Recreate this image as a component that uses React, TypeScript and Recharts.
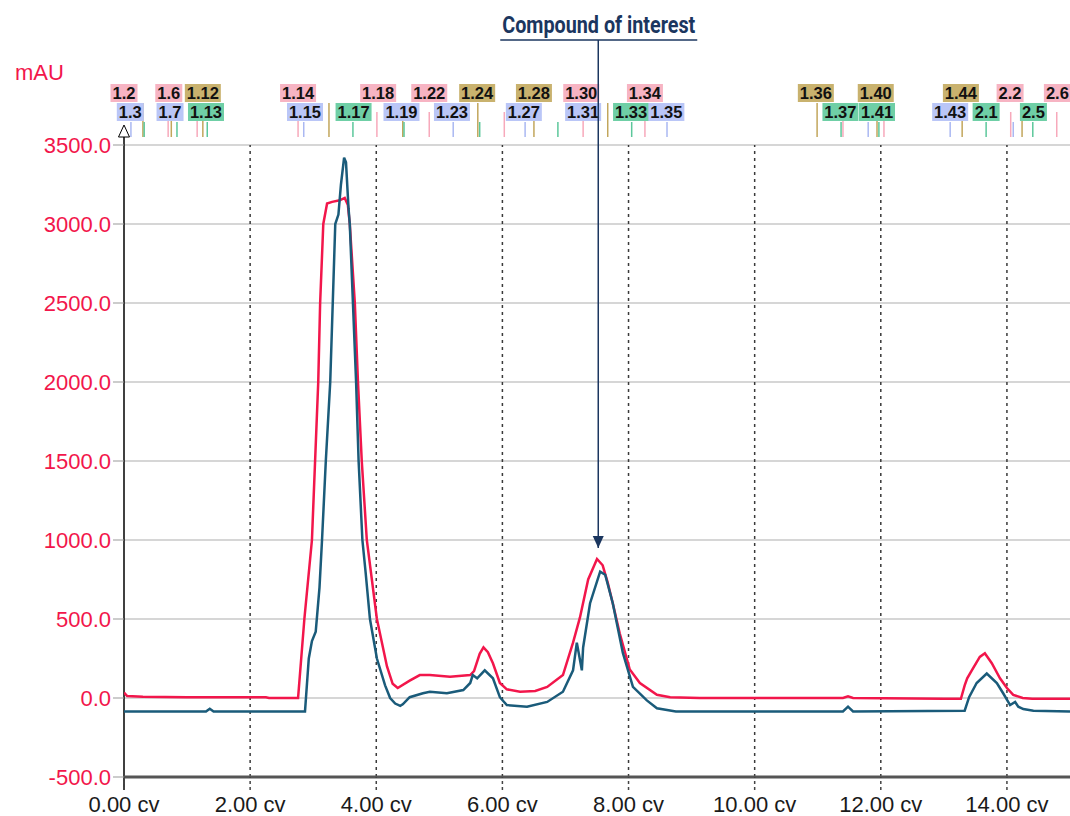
import React from 'react';
import { LineChart, Line, XAxis, YAxis, CartesianGrid, ReferenceLine, ReferenceDot } from 'recharts';

// ---- data ----
const redTrace: [number, number][] = [
  [0, 35], [0.05, 12], [0.3, 8], [1.0, 5], [2.25, 4], [2.3, 0], [2.76, 0], [2.86, 500], [2.98, 1000],
  [3.03, 1500], [3.08, 2000], [3.11, 2500], [3.16, 3000], [3.22, 3130], [3.3, 3140], [3.42, 3150],
  [3.5, 3165], [3.55, 3120], [3.58, 3000], [3.66, 2500], [3.71, 2000], [3.77, 1500], [3.85, 1000],
  [4.01, 500], [4.17, 200], [4.26, 90], [4.34, 63], [4.53, 110], [4.69, 145], [4.85, 145],
  [5.17, 135], [5.49, 145], [5.55, 170], [5.64, 280], [5.7, 320], [5.77, 290], [5.85, 220], [5.96, 95],
  [6.07, 55], [6.28, 40], [6.52, 45], [6.71, 70], [6.96, 145], [7.12, 350], [7.23, 510], [7.36, 750],
  [7.5, 880], [7.59, 840], [7.67, 730], [7.75, 600], [7.86, 410], [8.02, 180], [8.18, 95], [8.45, 20],
  [8.66, 5], [9.13, 0], [11.4, 0], [11.48, 10], [11.56, 0], [13.0, -5], [13.27, -5], [13.33, 80],
  [13.37, 125], [13.45, 180], [13.57, 260], [13.65, 283], [13.76, 220], [13.89, 125], [14.0, 63],
  [14.1, 20], [14.25, 0], [14.4, -5], [15, -5],
];

const tealTrace: [number, number][] = [
  [0, -85], [1.3, -85], [1.36, -68], [1.42, -85], [2.87, -85], [2.93, 250], [2.98, 360], [3.04, 420],
  [3.1, 700], [3.14, 1000], [3.2, 1500], [3.27, 2000], [3.31, 2500], [3.35, 3000], [3.4, 3060],
  [3.44, 3250], [3.49, 3420], [3.52, 3390], [3.56, 3100], [3.58, 3000], [3.63, 2500], [3.68, 2000],
  [3.72, 1500], [3.78, 1000], [3.83, 800], [3.9, 500], [4.01, 250], [4.14, 80], [4.22, 0], [4.3, -35],
  [4.38, -50], [4.42, -40], [4.53, 5], [4.74, 30], [4.85, 40], [5.12, 30],
  [5.38, 50], [5.49, 95], [5.53, 145], [5.6, 125], [5.72, 175], [5.85, 125], [5.96, 5], [6.07, -45],
  [6.39, -55], [6.71, -25], [6.96, 40], [7.12, 175], [7.18, 350], [7.21, 285], [7.26, 175], [7.28, 320],
  [7.39, 600], [7.55, 800], [7.63, 780], [7.75, 600], [7.91, 285], [8.07, 70], [8.29, -15], [8.45, -65],
  [8.75, -85], [11.4, -85], [11.48, -55], [11.56, -85], [13.33, -80], [13.4, 5], [13.52, 95],
  [13.68, 155], [13.84, 95], [13.94, 30], [14.05, -45], [14.13, -25], [14.18, -55], [14.26, -70],
  [14.42, -80], [15, -85],
];

const xTicks = [0, 2, 4, 6, 8, 10, 12, 14];
const gridX = [2, 4, 6, 8, 10, 12, 14];
const yTicks = [-500, 0, 500, 1000, 1500, 2000, 2500, 3000, 3500];
const yUnit = 'mAU';

type Kind = 'pink' | 'blue' | 'khaki' | 'teal';

const fractionRow1: [string, number, Kind][] = [
  ['1.2', 0.0, 'pink'], ['1.6', 0.71, 'pink'], ['1.12', 1.25, 'khaki'], ['1.14', 2.76, 'pink'],
  ['1.18', 4.03, 'pink'], ['1.22', 4.84, 'pink'], ['1.24', 5.6, 'khaki'], ['1.28', 6.5, 'khaki'],
  ['1.30', 7.25, 'pink'], ['1.34', 8.26, 'pink'], ['1.36', 10.97, 'khaki'], ['1.40', 11.92, 'khaki'],
  ['1.44', 13.27, 'khaki'], ['2.2', 14.05, 'pink'], ['2.6', 14.8, 'pink'],
];

const fractionRow2: [string, number, Kind][] = [
  ['1.3', 0.1, 'blue'], ['1.7', 0.73, 'blue'], ['1.13', 1.3, 'teal'], ['1.15', 2.87, 'blue'],
  ['1.17', 3.64, 'teal'], ['1.19', 4.4, 'blue'], ['1.23', 5.2, 'blue'], ['1.27', 6.34, 'blue'],
  ['1.31', 7.28, 'blue'], ['1.33', 8.04, 'teal'], ['1.35', 8.6, 'blue'], ['1.37', 11.36, 'teal'],
  ['1.41', 11.94, 'teal'], ['1.43', 13.1, 'blue'], ['2.1', 13.67, 'teal'], ['2.5', 14.42, 'teal'],
];

const fractionTicks: [number, Kind][] = [
  [0.11, 'blue'], [0.3, 'khaki'], [0.32, 'teal'], [0.7, 'pink'], [0.75, 'khaki'], [0.84, 'teal'],
  [1.16, 'pink'], [1.25, 'khaki'], [1.32, 'teal'], [2.76, 'pink'], [2.85, 'blue'], [3.25, 'khaki'],
  [3.63, 'teal'], [4.01, 'pink'], [4.42, 'khaki'], [4.44, 'teal'], [4.84, 'pink'], [5.22, 'blue'],
  [5.61, 'khaki'], [5.64, 'teal'], [6.03, 'pink'], [6.36, 'blue'], [6.5, 'khaki'], [6.88, 'teal'],
  [7.28, 'pink'], [7.67, 'khaki'], [8.05, 'teal'], [8.26, 'pink'], [8.61, 'blue'], [10.99, 'khaki'],
  [11.37, 'teal'], [11.4, 'pink'], [11.8, 'blue'], [11.94, 'khaki'], [11.97, 'teal'], [12.05, 'pink'],
  [13.1, 'blue'], [13.29, 'khaki'], [13.67, 'teal'], [14.06, 'pink'], [14.1, 'blue'], [14.24, 'khaki'],
  [14.41, 'teal'], [14.79, 'pink'],
];

const annotationText = 'Compound of interest';
const annotationX = 7.52;
const annotationTip = 950;

// ---- styles ----
const RED = '#f2164b';
const TEAL = '#1a5b7a';
const NAVY = '#1b365f';
const boxFill: Record<Kind, string> = { pink: '#f7b4c3', blue: '#bac6f7', khaki: '#c9b26e', teal: '#6fcfa6' };
const tickStroke: Record<Kind, string> = { pink: '#f7a9bb', blue: '#aab8f2', khaki: '#c2a65c', teal: '#5cc79b' };
const tickTop: Record<Kind, number> = { pink: 33, blue: 23, khaki: 42, teal: 23 };

const toPoints = (t: [number, number][]) => t.map(([x, y]) => ({ x, y }));
const redData = toPoints(redTrace);
const tealData = toPoints(tealTrace);
const Y_TOP = yTicks[yTicks.length - 1];
const Y_BOTTOM = yTicks[0];

const labelShape = (label: string, kind: Kind, row: number) => (props: any) => {
  const { cx, cy } = props;
  const w = label.length * 9;
  const top = row === 1 ? cy - 61 : cy - 42;
  return (
    <g>
      <rect x={cx - w / 2} y={top} width={w} height={18} fill={boxFill[kind]} />
      <text x={cx} y={top + 15} textAnchor="middle" fontFamily="Liberation Sans, Arial, sans-serif"
        fontWeight="bold" fontSize={16.5} fill="#111">{label}</text>
    </g>
  );
};

const tickShape = (kind: Kind) => (props: any) => {
  const { cx, cy } = props;
  return <line x1={cx} x2={cx} y1={cy - tickTop[kind]} y2={cy - 8} stroke={tickStroke[kind]} strokeWidth={1.5} />;
};

const axisTopShape = (props: any) => {
  const { cx, cy } = props;
  return (
    <polygon points={`${cx},${cy - 20} ${cx - 5.5},${cy - 8} ${cx + 5.5},${cy - 8}`} fill="#fff" stroke="#000" strokeWidth={1} />
  );
};

const annotationTopShape = (props: any) => {
  const { cx, cy } = props;
  return (
    <g>
      <text x={cx + 0.5} y={cy - 112} textAnchor="middle" fontFamily="Roboto, sans-serif" fontWeight={700}
        fontSize={24} fill={NAVY} textLength={193} lengthAdjust="spacingAndGlyphs">{annotationText}</text>
      <line x1={cx - 98} x2={cx + 99} y1={cy - 105} y2={cy - 105} stroke={NAVY} strokeWidth={1.5} />
      <line x1={cx} x2={cx} y1={cy - 105} y2={cy} stroke={NAVY} strokeWidth={1.5} />
    </g>
  );
};

const arrowHeadShape = (props: any) => {
  const { cx, cy } = props;
  return <polygon points={`${cx},${cy} ${cx - 5.5},${cy - 12} ${cx + 5.5},${cy - 12}`} fill={NAVY} />;
};

export default function App() {
  return (
    <div style={{ position: 'absolute', left: 0, top: 0, width: 1070, height: 816, background: '#fff' }}>
      <svg style={{ position: 'absolute', left: 0, top: 0 }} width={1070} height={100} pointerEvents="none">
        <text x={15} y={80} fontFamily="Liberation Sans, Arial, sans-serif" fontSize={22} fill={RED}>{yUnit}</text>
      </svg>
      <LineChart width={1070} height={816} margin={{ top: 145, right: 0, bottom: 0, left: 0 }}>
        <CartesianGrid vertical={false} stroke="#c8c8c8" strokeWidth={1.5} />
        <XAxis
          dataKey="x"
          type="number"
          domain={[0, 15]}
          ticks={xTicks}
          height={39}
          tickSize={13}
          tickMargin={6}
          tickFormatter={(v: number) => `${v.toFixed(2)} cv`}
          tick={{ fill: '#1a1a1a', fontSize: 22, fontFamily: 'Liberation Sans, Arial, sans-serif' }}
          axisLine={{ stroke: '#555', strokeWidth: 3 }}
          tickLine={{ stroke: '#444', strokeDasharray: '3 3', strokeWidth: 1.5 }}
          allowDataOverflow
        />
        <YAxis
          type="number"
          domain={[Y_BOTTOM, Y_TOP]}
          ticks={yTicks}
          width={124}
          tickSize={11}
          tickMargin={2}
          tickFormatter={(v: number) => v.toFixed(1)}
          tick={{ fill: RED, fontSize: 22, fontFamily: 'Liberation Sans, Arial, sans-serif' }}
          axisLine={false}
          tickLine={{ stroke: '#999' }}
          allowDataOverflow
        />
        {gridX.map((v) => (
          <ReferenceLine key={`g${v}`} x={v} stroke="#3a3a3a" strokeDasharray="3 4" strokeWidth={1.5} />
        ))}
        <ReferenceLine
          segment={[{ x: 0, y: Y_BOTTOM - 82 }, { x: 0, y: Y_TOP + 50 }]}
          stroke="#000"
          strokeWidth={1.5}
          ifOverflow="visible"
        />
        <ReferenceDot x={0} y={Y_TOP} r={1} ifOverflow="visible" shape={axisTopShape} />
        <Line data={redData} dataKey="y" type="linear" stroke={RED} strokeWidth={2.5} dot={false} activeDot={false} isAnimationActive={false} />
        <Line data={tealData} dataKey="y" type="linear" stroke={TEAL} strokeWidth={2.5} dot={false} activeDot={false} isAnimationActive={false} />
        {fractionTicks.map(([x, k], i) => (
          <ReferenceDot key={`t${i}`} x={x} y={Y_TOP} r={1} ifOverflow="visible" shape={tickShape(k)} />
        ))}
        {fractionRow1.map(([l, x, k]) => (
          <ReferenceDot key={`a${l}`} x={x} y={Y_TOP} r={1} ifOverflow="visible" shape={labelShape(l, k, 1)} />
        ))}
        {fractionRow2.map(([l, x, k]) => (
          <ReferenceDot key={`b${l}`} x={x} y={Y_TOP} r={1} ifOverflow="visible" shape={labelShape(l, k, 2)} />
        ))}
        <ReferenceLine
          segment={[{ x: annotationX, y: annotationTip }, { x: annotationX, y: Y_TOP }]}
          stroke={NAVY}
          strokeWidth={1.5}
          ifOverflow="visible"
        />
        <ReferenceDot x={annotationX} y={Y_TOP} r={1} ifOverflow="visible" shape={annotationTopShape} />
        <ReferenceDot x={annotationX} y={annotationTip} r={1} ifOverflow="visible" shape={arrowHeadShape} />
      </LineChart>
    </div>
  );
}
